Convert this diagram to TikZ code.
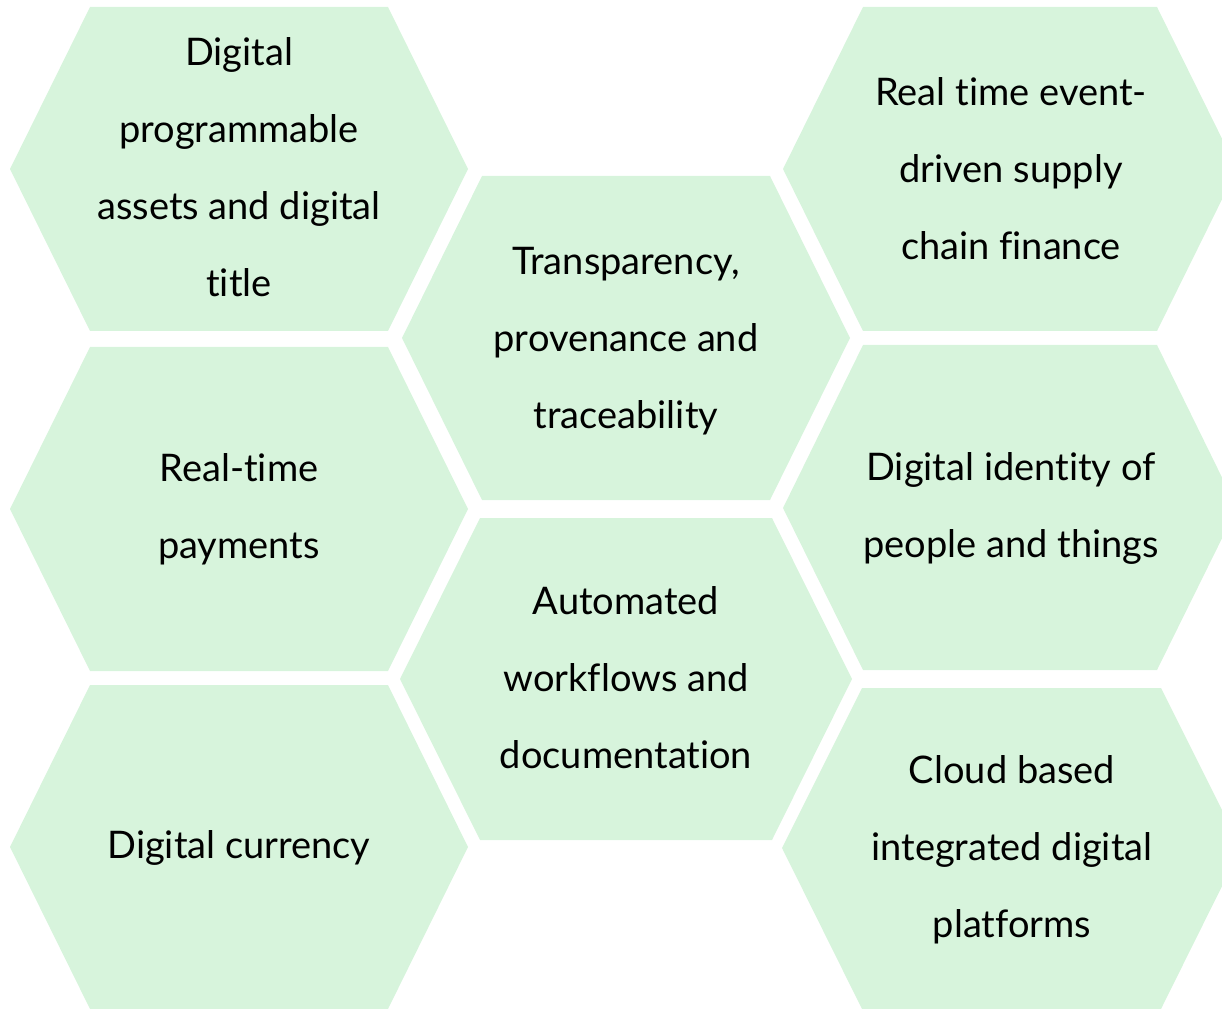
\documentclass[tikz,border=0pt]{standalone}
\usepackage{fontspec}
\setmainfont{Lato}[Ligatures=NoCommon]
\definecolor{hexfill}{RGB}{215,244,220}
\tikzset{
  hexlabel/.style={align=center, text=black, inner sep=0pt,
    font=\fontsize{28.5}{57.75}\selectfont},
  hexshape/.style={fill=hexfill, draw=none}
}
\begin{document}
\begin{tikzpicture}[x=0.75pt,y=-0.75pt]
\useasboundingbox (0,0) rectangle (1222,1009);
\begin{scope}
\clip (0,0) rectangle (1222,1009);
% left column
\fill[hexshape] (90,7) -- (388,7) -- (468,169) -- (388,331) -- (90,331) -- (10,169) -- cycle;
\fill[hexshape] (90,347) -- (388,347) -- (468,509) -- (388,671) -- (90,671) -- (10,509) -- cycle;
\fill[hexshape] (90,685) -- (388,685) -- (468,847) -- (388,1009) -- (90,1009) -- (10,847) -- cycle;
% middle column
\fill[hexshape] (482,176) -- (770,176) -- (850,338) -- (770,500) -- (482,500) -- (402,338) -- cycle;
\fill[hexshape] (480,518) -- (772,518) -- (852,679) -- (772,840) -- (480,840) -- (400,679) -- cycle;
% right column
\fill[hexshape] (863,7) -- (1157,7) -- (1237,169) -- (1157,331) -- (863,331) -- (783,169) -- cycle;
\fill[hexshape] (863,345) -- (1157,345) -- (1237,508) -- (1157,670) -- (863,670) -- (783,508) -- cycle;
\fill[hexshape] (862,688) -- (1161,688) -- (1241,848) -- (1161,1009) -- (862,1009) -- (782,848) -- cycle;
\end{scope}
\node[hexlabel] (l1) at (239,167) {Digital\\programmable\\assets and digital\\title};
\node[hexlabel] (l2) at (239,509) {Real-time\\payments};
\node[hexlabel] (l3) at (239,848) {Digital currency};
\node[hexlabel] (ma) at (626,341) {Transparency,\\provenance and\\traceability};
\node[hexlabel] (mb) at (626,678) {Automated\\workflows and\\documentation};
\node[hexlabel] (r1) at (1011,169) {Real time event-\\driven supply\\chain finance};
\node[hexlabel] (r2) at (1011,508) {Digital identity of\\people and things};
\node[hexlabel] (r3) at (1012,850) {Cloud based\\integrated digital\\platforms};
\end{tikzpicture}
\end{document}
